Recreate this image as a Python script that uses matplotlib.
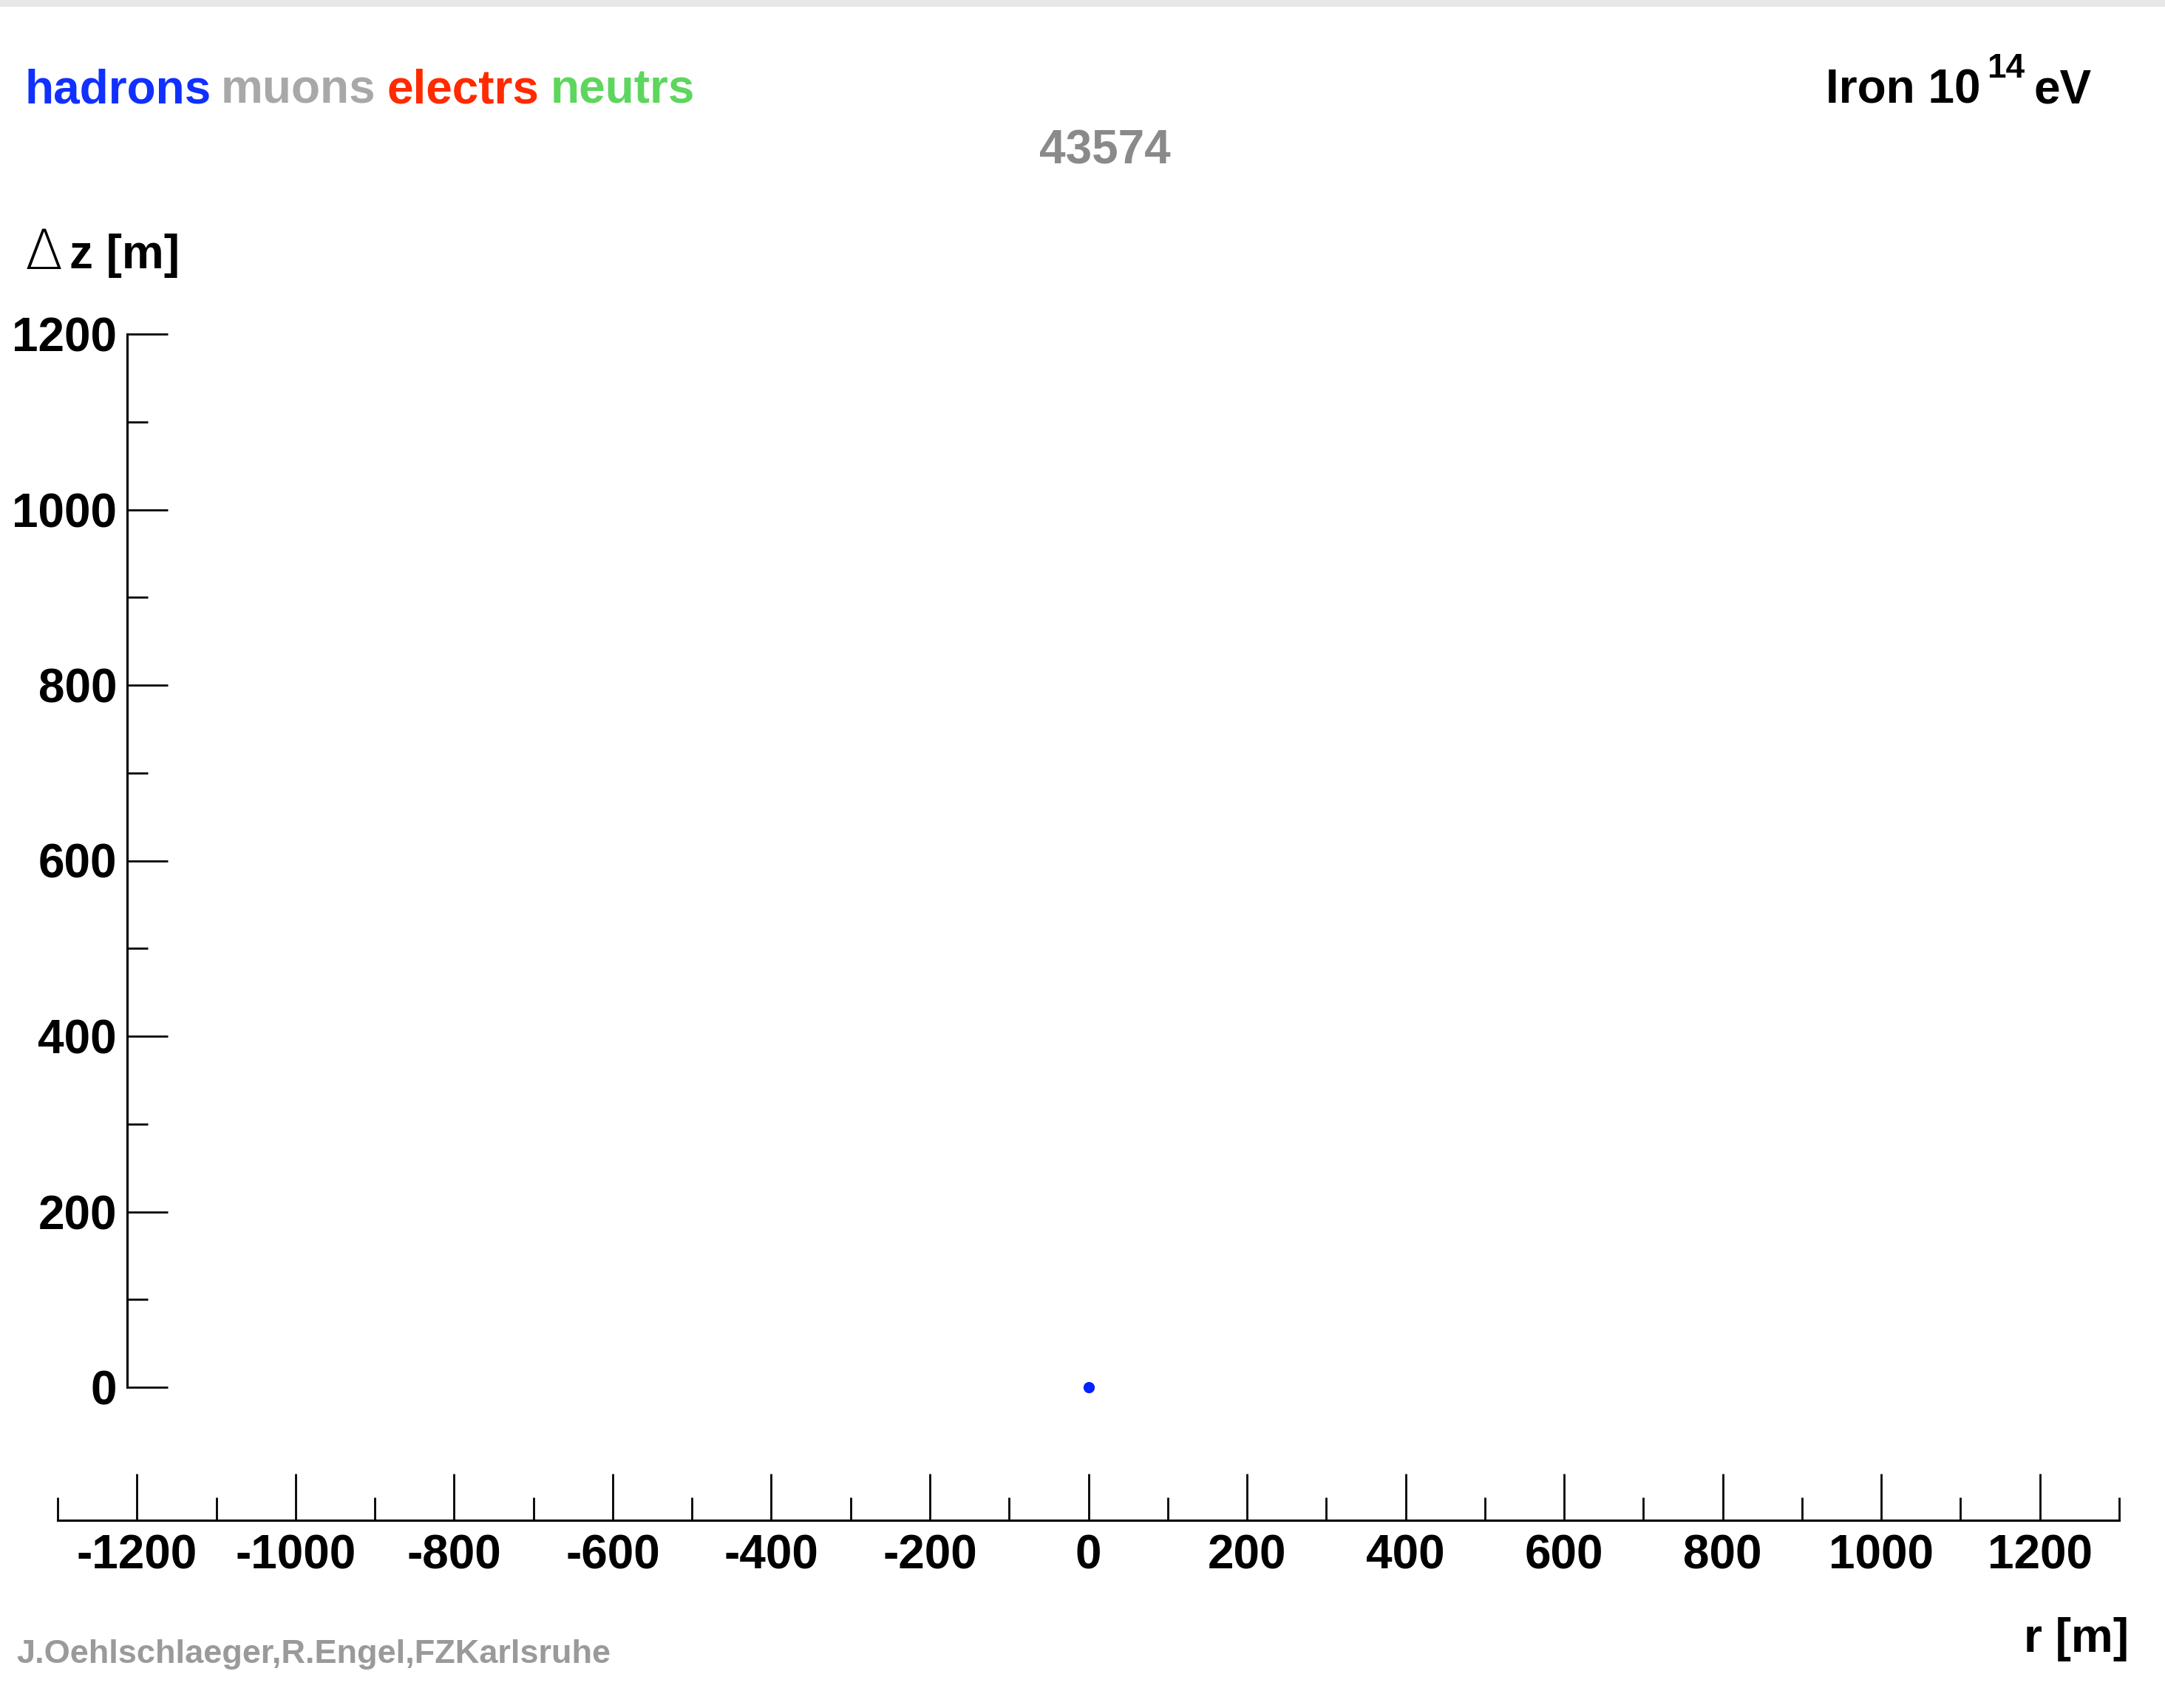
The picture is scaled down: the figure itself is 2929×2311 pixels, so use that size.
import matplotlib
matplotlib.use("Agg")
import matplotlib.pyplot as plt
from matplotlib.patches import Rectangle
from matplotlib.ticker import MultipleLocator

plt.rcParams["axes.unicode_minus"] = False

# data: shower particles (only one hadron at the origin in this frame)
hadron_r = [0]
hadron_z = [0]
legend_words = ["hadrons", "muons", "electrs", "neutrs"]
legend_colors = ["#1030ff", "#a8a8a8", "#ff2a00", "#5dd65d"]
legend_x_px = [34, 299, 523, 745]
frame_no = "43574"
x_ticks = list(range(-1200, 1201, 200))
y_ticks = list(range(0, 1201, 200))

W, H, DPI = 2929, 2311, 100
FONT = "Liberation Sans"

fig = plt.figure(figsize=(W / DPI, H / DPI), dpi=DPI)
fig.patches.append(Rectangle((0, 1 - 8 / H), 1, 8 / H, transform=fig.transFigure,
                             color="#e8e8e8", zorder=0))

def px(x, y):
    return x / W, 1 - y / H

# main axes: x from -1300..1300, y from 0..1200
left, right = 78, 2867
ytop, ybot = 452, 1877
ax = fig.add_axes([left / W, (H - ybot) / H, (right - left) / W, (ybot - ytop) / H])
ax.set_xlim(-1300, 1300)
ax.set_ylim(0, 1200)
ax.patch.set_visible(False)

ax.plot(hadron_r, hadron_z, "o", color="#0022ff", markersize=10, clip_on=False)

for s in ["top", "right"]:
    ax.spines[s].set_visible(False)
ax.spines["bottom"].set_position(("outward", (2057 - ybot) * 72 / DPI))
ax.spines["left"].set_position(("axes", (172 - left) / (right - left)))
for s in ["bottom", "left"]:
    ax.spines[s].set_linewidth(2.2)

ax.set_xticks(x_ticks)
ax.xaxis.set_minor_locator(MultipleLocator(100))
ax.set_yticks(y_ticks)
ax.yaxis.set_minor_locator(MultipleLocator(100))

ax.tick_params(axis="x", which="major", direction="in", length=63 * 0.72, width=2.0, pad=13)
ax.tick_params(axis="x", which="minor", direction="in", length=31 * 0.72, width=2.0)
ax.tick_params(axis="y", which="major", direction="in", length=55 * 0.72, width=2.0, pad=10)
ax.tick_params(axis="y", which="minor", direction="in", length=28 * 0.72, width=2.0)
for lab in ax.get_xticklabels() + ax.get_yticklabels():
    lab.set_fontfamily(FONT)
    lab.set_fontweight("bold")
    lab.set_fontsize(46)

# legend words
for word, col, x in zip(legend_words, legend_colors, legend_x_px):
    fig.text(*px(x, 139), word, color=col, fontsize=46, fontweight="bold",
             family=FONT, va="baseline", ha="left")

# title top right
fig.text(*px(2470, 139), "Iron 10", fontsize=46, fontweight="bold", family=FONT,
         va="baseline", ha="left")
fig.text(*px(2688, 105), "14", fontsize=33, fontweight="bold", family=FONT,
         va="baseline", ha="left")
fig.text(*px(2830, 139), "eV", fontsize=46, fontweight="bold", family=FONT,
         va="baseline", ha="right")

# frame number
fig.text(*px(1495, 222), frame_no, fontsize=46, fontweight="bold", family=FONT,
         color="#8a8a8a", va="baseline", ha="center")

# axis titles
fig.text(*px(34, 364), "\u0394", fontsize=54, family="DejaVu Sans", fontweight="light",
         va="baseline", ha="left")
fig.text(*px(94, 363), "z [m]", fontsize=46, fontweight="bold", family=FONT,
         va="baseline", ha="left")
fig.text(*px(2880, 2235), "r [m]", fontsize=46, fontweight="bold", family=FONT,
         va="baseline", ha="right")

# credits
fig.text(*px(22, 2250), "J.Oehlschlaeger,R.Engel,FZKarlsruhe", fontsize=32.5,
         fontweight="bold", family=FONT, color="#9a9a9a", va="baseline", ha="left")

fig.savefig("out.png", dpi=DPI, facecolor="white")
